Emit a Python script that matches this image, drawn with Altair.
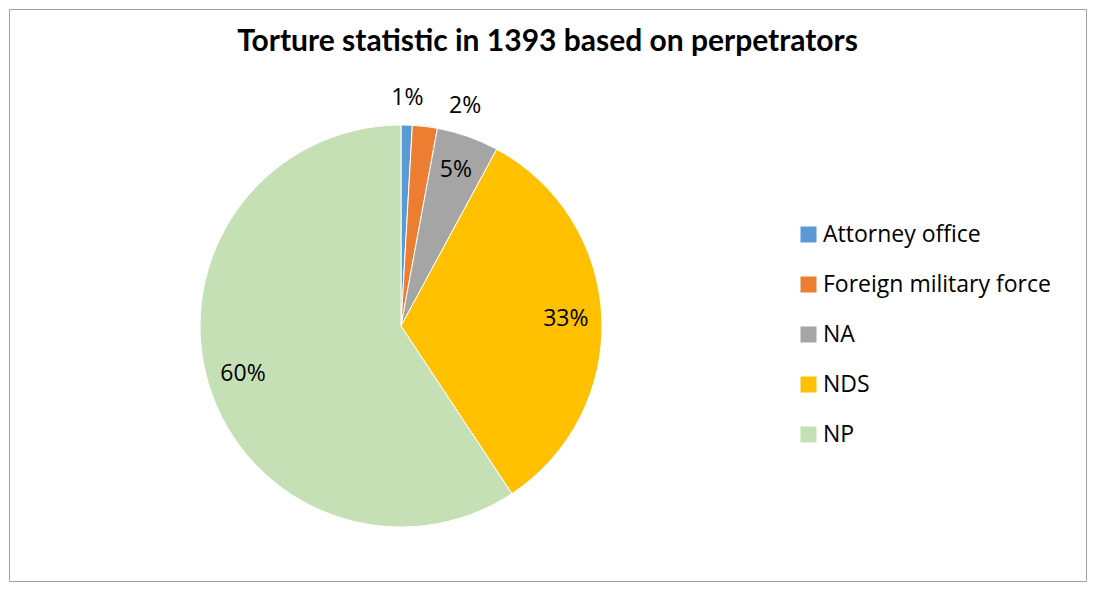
import altair as alt
import pandas as pd

categories = ["Attorney office", "Foreign military force", "NA", "NDS", "NP"]
shares = [0.9, 2.0, 5.0, 32.8, 59.3]
labels = ["1%", "2%", "5%", "33%", "60%"]
colors = ["#5B9BD5", "#ED7D31", "#A5A5A5", "#FFC000", "#C5E0B4"]
title_text = "Torture statistic in 1393 based on perpetrators"

df = pd.DataFrame({
    "perpetrator": categories,
    "share": shares,
    "label": labels,
    "order": list(range(len(categories))),
})
total = sum(shares)

W, H = 1079, 574
CX, CY = 392, 317
FONT = "Open Sans"

base = alt.Chart(df).encode(
    x=alt.value(CX),
    y=alt.value(CY),
)

pie = base.mark_arc(outerRadius=201, stroke="white", strokeWidth=1).encode(
    theta=alt.Theta("share:Q", stack=True, scale=alt.Scale(domain=[0, total])),
    color=alt.Color(
        "perpetrator:N",
        scale=alt.Scale(domain=categories, range=colors),
        sort=categories,
        legend=alt.Legend(
            title=None,
            orient="none",
            legendX=788,
            legendY=214,
            symbolType="square",
            symbolSize=256,
            symbolStrokeWidth=0,
            labelFontSize=23,
            labelFont=FONT,
            labelColor="#000000",
            labelOffset=3,
            labelLimit=0,
            rowPadding=26,
            padding=0,
        ),
    ),
    order=alt.Order("order:Q"),
)

stacked = base.transform_stack(
    stack="share", groupby=[], as_=["t0", "t1"], sort=[alt.SortField("order")]
).transform_calculate(mid="(datum.t0 + datum.t1) / 2")

theta_mid = alt.Theta("mid:Q", scale=alt.Scale(domain=[0, total]))

inner = stacked.transform_filter("datum.share >= 3").mark_text(
    radius=165, fontSize=23, font=FONT, color="#000000"
).encode(theta=theta_mid, text="label:N")

small1 = stacked.transform_filter("datum.order == 0").mark_text(
    radius=228, fontSize=23, font=FONT, color="#000000"
).encode(theta=theta_mid, text="label:N")

small2 = stacked.transform_filter("datum.order == 1").mark_text(
    radius=228, fontSize=23, font=FONT, color="#000000", dx=37, dy=6
).encode(theta=theta_mid, text="label:N")

title = alt.Chart(pd.DataFrame({"t": [title_text]})).mark_text(
    fontSize=30, font="Lato", fontWeight="bold", color="#000000", baseline="middle"
).encode(text="t:N", x=alt.value((W - 2) / 2), y=alt.value(33))

chart = alt.layer(pie, inner, small1, small2, title).properties(
    width=W, height=H, padding=1,
    autosize=alt.AutoSizeParams(type="fit", contains="padding"),
).configure_view(stroke="#A0A0A0", strokeWidth=1)

chart.save("out.html", embed_options={"renderer": "svg", "actions": False})
